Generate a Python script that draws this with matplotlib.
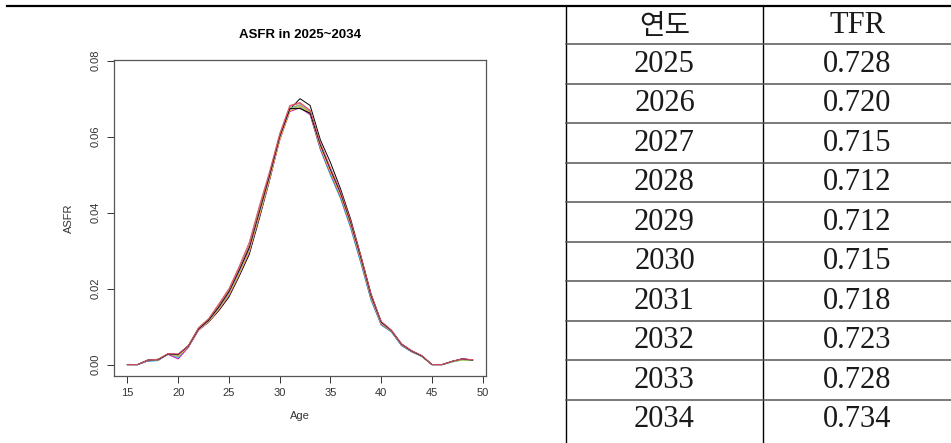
import matplotlib
matplotlib.use("Agg")
import matplotlib.pyplot as plt

# ---- data ---------------------------------------------------------------
ages = list(range(15, 50))

asfr = {
    2025: [0.0000, 0.0000, 0.0010, 0.0012, 0.0028, 0.0026, 0.0050, 0.0092, 0.0112, 0.0142, 0.0178, 0.0232,
           0.0290, 0.0385, 0.0485, 0.0595, 0.0672, 0.0700, 0.0682, 0.0592, 0.0532, 0.0462, 0.0382, 0.0286,
           0.0186, 0.0112, 0.0090, 0.0054, 0.0036, 0.0023, 0.0000, 0.0000, 0.0008, 0.0014, 0.0012],
    2026: [0.0000, 0.0000, 0.0011, 0.0013, 0.0027, 0.0024, 0.0049, 0.0097, 0.0121, 0.0160, 0.0200, 0.0258,
           0.0322, 0.0418, 0.0508, 0.0608, 0.0682, 0.0690, 0.0668, 0.0578, 0.0512, 0.0446, 0.0366, 0.0272,
           0.0174, 0.0104, 0.0088, 0.0051, 0.0034, 0.0022, 0.0000, 0.0000, 0.0008, 0.0013, 0.0012],
    2027: [0.0000, 0.0000, 0.0012, 0.0014, 0.0027, 0.0023, 0.0048, 0.0095, 0.0119, 0.0156, 0.0195, 0.0252,
           0.0315, 0.0410, 0.0502, 0.0602, 0.0675, 0.0684, 0.0664, 0.0572, 0.0505, 0.0442, 0.0362, 0.0270,
           0.0172, 0.0106, 0.0087, 0.0052, 0.0035, 0.0021, 0.0000, 0.0000, 0.0007, 0.0012, 0.0011],
    2028: [0.0000, 0.0000, 0.0009, 0.0011, 0.0029, 0.0020, 0.0047, 0.0093, 0.0117, 0.0152, 0.0190, 0.0246,
           0.0308, 0.0402, 0.0496, 0.0598, 0.0670, 0.0680, 0.0660, 0.0568, 0.0500, 0.0438, 0.0360, 0.0268,
           0.0170, 0.0105, 0.0086, 0.0050, 0.0034, 0.0022, 0.0000, 0.0000, 0.0008, 0.0014, 0.0011],
    2029: [0.0000, 0.0000, 0.0010, 0.0010, 0.0028, 0.0018, 0.0046, 0.0091, 0.0114, 0.0148, 0.0186, 0.0240,
           0.0300, 0.0395, 0.0490, 0.0594, 0.0668, 0.0678, 0.0658, 0.0566, 0.0498, 0.0436, 0.0358, 0.0266,
           0.0170, 0.0104, 0.0086, 0.0050, 0.0033, 0.0021, 0.0000, 0.0000, 0.0007, 0.0015, 0.0011],
    2030: [0.0000, 0.0000, 0.0010, 0.0011, 0.0027, 0.0015, 0.0045, 0.0090, 0.0112, 0.0145, 0.0182, 0.0236,
           0.0296, 0.0390, 0.0486, 0.0590, 0.0666, 0.0676, 0.0658, 0.0568, 0.0502, 0.0440, 0.0362, 0.0270,
           0.0173, 0.0106, 0.0087, 0.0051, 0.0034, 0.0022, 0.0000, 0.0000, 0.0008, 0.0016, 0.0012],
    2031: [0.0000, 0.0000, 0.0011, 0.0012, 0.0028, 0.0022, 0.0047, 0.0092, 0.0113, 0.0146, 0.0184, 0.0238,
           0.0298, 0.0392, 0.0488, 0.0592, 0.0668, 0.0680, 0.0662, 0.0572, 0.0506, 0.0444, 0.0366, 0.0274,
           0.0176, 0.0108, 0.0088, 0.0052, 0.0035, 0.0022, 0.0000, 0.0000, 0.0008, 0.0013, 0.0012],
    2032: [0.0000, 0.0000, 0.0011, 0.0012, 0.0027, 0.0025, 0.0048, 0.0093, 0.0115, 0.0149, 0.0188, 0.0243,
           0.0303, 0.0398, 0.0494, 0.0598, 0.0672, 0.0684, 0.0666, 0.0576, 0.0510, 0.0448, 0.0370, 0.0278,
           0.0179, 0.0110, 0.0089, 0.0053, 0.0035, 0.0023, 0.0000, 0.0000, 0.0008, 0.0014, 0.0012],
    2033: [0.0000, 0.0000, 0.0012, 0.0013, 0.0028, 0.0027, 0.0049, 0.0094, 0.0117, 0.0152, 0.0192, 0.0248,
           0.0308, 0.0404, 0.0498, 0.0600, 0.0674, 0.0674, 0.0662, 0.0580, 0.0514, 0.0452, 0.0374, 0.0282,
           0.0182, 0.0112, 0.0090, 0.0054, 0.0036, 0.0023, 0.0000, 0.0000, 0.0009, 0.0015, 0.0012],
    2034: [0.0000, 0.0000, 0.0012, 0.0014, 0.0029, 0.0028, 0.0050, 0.0096, 0.0120, 0.0156, 0.0196, 0.0253,
           0.0314, 0.0410, 0.0504, 0.0604, 0.0680, 0.0688, 0.0670, 0.0584, 0.0518, 0.0456, 0.0378, 0.0286,
           0.0185, 0.0114, 0.0091, 0.0055, 0.0037, 0.0024, 0.0000, 0.0000, 0.0009, 0.0015, 0.0013],
}

years = ["2025", "2026", "2027", "2028", "2029", "2030", "2031", "2032", "2033", "2034"]
tfr = ["0.728", "0.720", "0.715", "0.712", "0.712", "0.715", "0.718", "0.723", "0.728", "0.734"]
header = ["연도", "TFR"]

# R default palette, recycled like matplot does
r_palette = ["black", "#DF536B", "#61D04F", "#2297E6", "#28E2E5", "#CD0BBC", "#F5C710", "#9E9E9E"]

plt.rcParams["font.family"] = ["Liberation Sans", "DejaVu Sans"]

W, H = 951, 443
fig = plt.figure(figsize=(W / 100, H / 100), dpi=100)

# ---- table overlay in pixel coordinates --------------------------------
tab = fig.add_axes([0, 0, 1, 1])
tab.set_xlim(0, W)
tab.set_ylim(H, 0)
tab.axis("off")

top_y = 5.5
row_h = 39.5
first_line = 44.3
col_left, col_mid, col_right = 566, 763, W

tab.plot([7, W], [top_y, top_y], color="black", lw=1.6)
tab.plot([col_left, col_left], [top_y, H], color="black", lw=1.0)
tab.plot([col_mid, col_mid], [top_y, H], color="black", lw=1.0)
for i in range(len(years)):
    y = first_line + i * row_h
    tab.plot([col_left, col_right], [y, y], color="#555555", lw=1.1)

fam = ["Liberation Serif", "Noto Sans CJK KR", "DejaVu Sans"]
txt_col = "#1a1a1a"
c1 = (col_left + col_mid) / 2
c2 = (col_mid + col_right) / 2
tab.text(c1, (top_y + first_line) / 2 + 3, header[0], family=fam, fontsize=20, fontweight="light",
         color=txt_col, ha="center", va="center")
tab.text(c2, (top_y + first_line) / 2 + 1, header[1], family=fam, fontsize=22, color=txt_col,
         ha="center", va="center")
for i, (yr, v) in enumerate(zip(years, tfr)):
    yc = first_line + i * row_h + row_h / 2
    tab.text(c1, yc, yr, family=fam, fontsize=22, color=txt_col, ha="center", va="center")
    tab.text(c2, yc, v, family=fam, fontsize=22, color=txt_col, ha="center", va="center")

# ---- R style matplot ---------------------------------------------------
ax = fig.add_axes([113.6 / W, 1 - 376 / H, (486.4 - 113.6) / W, (376 - 60.3) / H])
for i, yr in enumerate(asfr):
    ax.plot(ages, asfr[yr], color=r_palette[i % len(r_palette)], lw=0.7)

ax.set_xlim(13.64, 50.36)
ax.set_ylim(-0.003, 0.0801)
ax.set_xticks([15, 20, 25, 30, 35, 40, 45, 50])
ax.set_yticks([0.00, 0.02, 0.04, 0.06, 0.08])
ax.set_yticklabels(["0.00", "0.02", "0.04", "0.06", "0.08"], rotation=90, va="center")
ax.tick_params(direction="out", length=5, width=0.7, labelsize=8, colors="#333333", pad=4)
for s in ax.spines.values():
    s.set_color("#555555")
    s.set_linewidth(0.9)
ax.set_title("ASFR in 2025~2034", fontsize=9.5, fontweight="bold", pad=16)
ax.set_xlabel("Age", fontsize=8, color="#333333", labelpad=9)
ax.set_ylabel("ASFR", fontsize=8, color="#333333", labelpad=12)

fig.savefig("out.png", dpi=100)
